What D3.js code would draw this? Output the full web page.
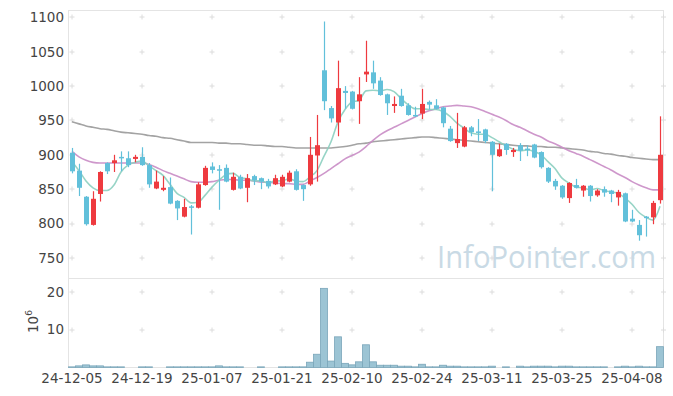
<!DOCTYPE html>
<html>
<head>
<meta charset="utf-8">
<script src="https://cdn.jsdelivr.net/npm/d3@7"></script>
<style>
  body { margin: 0; background: #fff; }
  svg { display: block; }
  .tick-label { font-family: "DejaVu Sans", sans-serif; font-size: 13.5px; fill: #444; }
</style>
</head>
<body>
<div class="chart"></div>
<script>
// trading days, 2024-12-05 .. 2025-04-14
var dates = [
  "2024-12-05","2024-12-06","2024-12-09","2024-12-10","2024-12-11","2024-12-12","2024-12-13","2024-12-16","2024-12-17","2024-12-18",
  "2024-12-19","2024-12-20","2024-12-23","2024-12-24","2024-12-26","2024-12-27","2024-12-30","2025-01-02","2025-01-03","2025-01-06",
  "2025-01-07","2025-01-08","2025-01-09","2025-01-10","2025-01-13","2025-01-14","2025-01-15","2025-01-16","2025-01-17","2025-01-20",
  "2025-01-21","2025-01-22","2025-01-23","2025-01-24","2025-01-31","2025-02-03","2025-02-04","2025-02-05","2025-02-06","2025-02-07",
  "2025-02-10","2025-02-11","2025-02-12","2025-02-13","2025-02-14","2025-02-17","2025-02-18","2025-02-19","2025-02-20","2025-02-21",
  "2025-02-24","2025-02-25","2025-02-26","2025-02-27","2025-02-28","2025-03-04","2025-03-05","2025-03-06","2025-03-07","2025-03-10",
  "2025-03-11","2025-03-12","2025-03-13","2025-03-14","2025-03-17","2025-03-18","2025-03-19","2025-03-20","2025-03-21","2025-03-24",
  "2025-03-25","2025-03-26","2025-03-27","2025-03-28","2025-03-31","2025-04-01","2025-04-02","2025-04-03","2025-04-04","2025-04-07",
  "2025-04-08","2025-04-09","2025-04-10","2025-04-11","2025-04-14"
];

var open = [903,877,839,798,843,888,888,897,895,894, 897,885,851,849,853,833,810,825,823,856,
  883,879,881,849,868,852,869,866,862,857, 854,861,876,856,857,899,1023,968,947,993,
  992,978,1017,1020,1008,988,971,986,972,958, 960,977,972,969,938,917,912,940,934,937,
  919,898,916,904,914,909,915,904,881,862, 855,837,856,848,855,841,850,848,838,844,
  807,798,810,809,834];
var high = [910,887,840,847,876,889,900,905,905,900, 911,888,877,869,867,834,836,827,860,884,
  889,885,886,874,871,872,871,867,865,871, 871,877,879,857,926,958,1094,971,1037,1000,
  993,1013,1066,1037,1013,989,985,996,975,970, 996,979,981,970,942,961,942,942,952,938,
  920,916,917,910,917,914,916,905,882,865, 856,860,865,856,856,850,854,849,849,845,
  820,805,811,833,956];
var low = [873,840,797,797,832,872,875,876,882,889, 884,852,850,847,828,805,809,784,822,855,
  873,820,860,848,850,831,856,850,851,856, 853,860,848,833,855,861,965,947,927,967,
  966,945,1006,996,986,958,961,970,957,955, 952,966,966,940,919,910,911,927,920,917,
  847,897,900,897,891,898,895,880,859,849, 836,830,851,839,832,839,839,831,826,802,
  802,775,781,799,829];
var close = [876,852,799,836,875,876,892,895,885,897, 885,857,861,852,829,822,824,823,857,881,
  878,878,861,868,851,866,863,861,854,866, 868,874,849,850,900,914,978,953,997,990,
  967,988,1021,1004,987,975,974,971,958,956, 974,973,967,946,920,923,940,933,932,920,
  900,908,907,907,906,907,896,882,861,854, 838,859,852,855,840,848,845,843,846,803,
  803,783,808,830,900];

// volume, millions of shares
var volume = [0.17,0.43,0.69,0.43,0.43,0.17,0.17,0.17,0,0, 0.17,0.17,0,0,0.17,0.17,0.17,0.17,0.17,0.17,
  0.17,0.43,0.17,0.17,0.17,0,0,0.17,0,0, 0.17,0.17,0.17,0.17,1.4,3.5,20.9,1.7,8.1,1.1,
  0.7,1.5,6.0,1.5,0.6,0.6,0.6,0.35,0.35,0.17, 0.86,0.17,0.17,0.6,0.35,0.35,0.17,0.17,0.17,0.17,
  0.35,0,0.17,0,0.35,0.17,0.35,0.35,0.35,0.17, 0.35,0.35,0.17,0.17,0.17,0.17,0.17,0,0.17,0.35,
  0.17,0.35,0.17,0.17,5.5];

// moving averages
var ma5 = [890,877,862,852,848,848,856,875,885,889, 891,884,877,870,857,844,838,830,831,841,
  853,863,871,873,867,865,862,862,859,862, 862,865,862,861,868,877,898,919,948,966,
  977,979,993,994,993,995,992,982,973,967, 967,966,966,963,956,946,939,932,930,930,
  925,919,913,908,906,907,905,900,890,880, 866,859,853,852,849,851,848,846,844,837,
  828,816,809,805,825];
var ma20 = [905,897,892,889,888,888,888,888,888,888, 888,886,882,877,873,869,865,861,860,860,
  861,863,864,864,863,863,862,860,860,859, 858,858,857,857,862,867,873,880,887,894,
  899,904,912,921,929,935,940,945,950,955, 960,964,967,970,971,972,971,970,967,963,
  959,955,950,944,940,935,930,926,920,916, 911,906,902,898,893,888,883,878,872,867,
  861,856,852,849,849];
var ma120 = [948,945,942,940,938,937,935,933,932,931, 930,928,927,925,924,922,920,918,918,918,
  918,917,917,916,916,915,914,914,913,912, 912,911,910,910,910,910,910,910,911,912,
  914,916,917,919,920,921,922,923,924,925, 926,926,925,924,923,922,921,920,919,918,
  917,916,915,914,913,913,912,912,911,911, 910,909,908,907,905,904,902,901,899,898,
  896,895,894,893,893];

var priceTicks = [750, 800, 850, 900, 950, 1000, 1050, 1100];
var volumeTicks = [10, 20];
var dateTicks = [0, 10, 20, 30, 40, 50, 60, 70, 80];

var width = 673, height = 396;
var left = 68.5, right = 663.5;
var priceTop = 10.5, priceBottom = 278.5, volBottom = 367.5;

var svg = d3.select(".chart").append("svg")
  .attr("width", width)
  .attr("height", height);

var x = d3.scaleBand()
  .domain(d3.range(dates.length))
  .range([left, right]);
var cx = function(i) { return x(i) + x.bandwidth() / 2; };

var y = d3.scaleLinear().domain([720, 1110]).range([priceBottom, priceTop]);
var yv = d3.scaleLinear().domain([0, 23.5]).range([volBottom, priceBottom]);

// panel frames
var frame = svg.append("g").attr("stroke", "#e4e4e4").attr("fill", "none");
frame.append("rect")
  .attr("x", left).attr("y", priceTop)
  .attr("width", right - left).attr("height", volBottom - priceTop);
frame.append("line")
  .attr("x1", left).attr("x2", right)
  .attr("y1", priceBottom).attr("y2", priceBottom);

// little "+" marks instead of grid lines
function crosses(ys) {
  var pts = [];
  dateTicks.forEach(function(i) {
    ys.forEach(function(v) { pts.push([cx(i), v]); });
  });
  ys.forEach(function(v) { pts.push([right, v]); });
  svg.append("g")
    .attr("stroke", "#dcdcdc")
    .selectAll("path")
    .data(pts)
    .join("path")
    .attr("d", function(p) {
      return "M" + (p[0] - 2.5) + "," + Math.round(p[1]) + "h5M" + p[0] + "," + (Math.round(p[1]) - 2.5) + "v5";
    });
}
crosses(priceTicks.map(y));
crosses(volumeTicks.map(yv));

// watermark
svg.append("text")
  .attr("x", 437).attr("y", 268)
  .attr("textLength", 219)
  .attr("lengthAdjust", "spacingAndGlyphs")
  .style("font-family", "'Open Sans', sans-serif")
  .style("font-size", "31px")
  .style("fill", "#c9dae5")
  .text("InfoPointer.com");

// moving average lines
var line = function(vals) {
  return d3.line()
    .x(function(d, i) { return cx(i); })
    .y(function(d) { return y(d); })
    .curve(d3.curveMonotoneX)(vals);
};
[[ma120, "#999999"], [ma20, "#c98cc5"], [ma5, "#8ccfc0"]].forEach(function(m) {
  svg.append("path")
    .attr("d", line(m[0]))
    .attr("fill", "none")
    .attr("stroke", m[1])
    .attr("stroke-width", 1.6)
    .attr("stroke-opacity", 0.9);
});

// candles
var up = "#ee3a3f", down = "#62c0da";
var candles = svg.append("g").selectAll("g")
  .data(d3.range(dates.length))
  .join("g")
  .attr("fill", function(i) { return close[i] >= open[i] ? up : down; })
  .attr("stroke", function(i) { return close[i] >= open[i] ? up : down; });

candles.append("line")
  .attr("x1", function(i) { return Math.round(cx(i)) + 0.5; })
  .attr("x2", function(i) { return Math.round(cx(i)) + 0.5; })
  .attr("y1", function(i) { return y(high[i]); })
  .attr("y2", function(i) { return y(low[i]); })
  .attr("stroke-width", 1.2);

candles.append("rect")
  .attr("stroke", "none")
  .attr("x", function(i) { return Math.round(cx(i)) - 2; })
  .attr("width", 5)
  .attr("y", function(i) { return y(Math.max(open[i], close[i])); })
  .attr("height", function(i) { return Math.max(1.5, Math.abs(y(open[i]) - y(close[i]))); });

// volume bars
svg.append("g")
  .selectAll("rect")
  .data(d3.range(dates.length))
  .join("rect")
  .attr("x", function(i) { return x(i); })
  .attr("width", x.bandwidth())
  .attr("y", function(i) { return yv(volume[i]); })
  .attr("height", function(i) { return yv(0) - yv(volume[i]); })
  .attr("fill", "#9cc4d4")
  .attr("stroke", "#7aa6ba")
  .attr("stroke-width", 0.8);

// axes labels
svg.append("g").selectAll("text")
  .data(priceTicks)
  .join("text")
  .attr("class", "tick-label")
  .attr("x", 64)
  .attr("y", function(d) { return y(d); })
  .attr("dy", "0.36em")
  .attr("text-anchor", "end")
  .text(function(d) { return d; });

svg.append("g").selectAll("text")
  .data(volumeTicks)
  .join("text")
  .attr("class", "tick-label")
  .attr("x", 64)
  .attr("y", function(d) { return yv(d); })
  .attr("dy", "0.36em")
  .attr("text-anchor", "end")
  .text(function(d) { return d; });

svg.append("g").selectAll("text")
  .data(dateTicks)
  .join("text")
  .attr("class", "tick-label")
  .attr("x", function(i) { return cx(i); })
  .attr("y", 383)
  .attr("text-anchor", "middle")
  .text(function(i) { return dates[i].slice(2); });

var unit = svg.append("text")
  .attr("class", "tick-label")
  .attr("transform", "translate(38,333) rotate(-90)");
unit.append("tspan").text("10");
unit.append("tspan").attr("dy", -6).style("font-size", "9px").text("6");
</script>
</body>
</html>
